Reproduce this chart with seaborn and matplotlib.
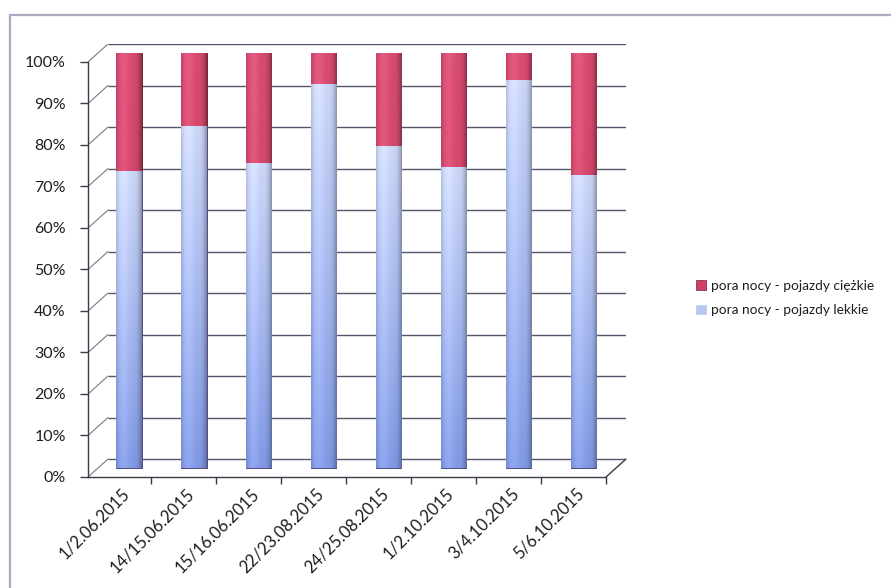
import numpy as np
import matplotlib
matplotlib.use("Agg")
import matplotlib.pyplot as plt
import seaborn as sns
import pandas as pd
from matplotlib.patches import Rectangle
from matplotlib.colors import to_rgb

# Night-time traffic split by vehicle class (share of total, %)
dates = ["1/2.06.2015", "14/15.06.2015", "15/16.06.2015", "22/23.08.2015",
         "24/25.08.2015", "1/2.10.2015", "3/4.10.2015", "5/6.10.2015"]
light = [71.5, 82.5, 73.5, 92.5, 77.5, 72.5, 93.5, 70.5]
heavy = [28.5, 17.5, 26.5, 7.5, 22.5, 27.5, 6.5, 29.5]
tick_values = [0, 10, 20, 30, 40, 50, 60, 70, 80, 90, 100]
tick_labels = [f"{v}%" for v in tick_values]
series_names = ["pora nocy - pojazdy ciężkie", "pora nocy - pojazdy lekkie"]

RED = "#cf4068"
RED_EDGE = "#7a1a35"
BLUE = "#a9b9ec"
BLUE_EDGE = "#4a5fa8"
GRID = "#55566a"
TEXT = "#1e1e1e"

sns.set_theme(style="white")
plt.rcParams["font.family"] = ["Lato", "DejaVu Sans"]

W, H = 891, 588
fig = plt.figure(figsize=(W / 100, H / 100), dpi=100)
fig.patch.set_facecolor("white")

# outer chart frame
fig.patches.append(Rectangle((10 / W, -0.05), 1.0, (H - 15) / H + 0.05,
                             transform=fig.transFigure, fill=False,
                             edgecolor="#a9a9c0", linewidth=1.6))

ax = fig.add_axes([88 / W, (H - 477) / H, (626 - 88) / W, (477 - 44) / H])
ax.set_facecolor("none")

df = pd.DataFrame({"date": dates, "light": light, "heavy": heavy})
df["total"] = df["light"] + df["heavy"]

BAR_W = 0.39
sns.barplot(data=df, x="date", y="total", color=RED, width=BAR_W, saturation=1,
            errorbar=None, edgecolor=RED_EDGE, linewidth=0.7, ax=ax, zorder=3)
n_red = len(ax.patches)
sns.barplot(data=df, x="date", y="light", color=BLUE, width=BAR_W, saturation=1,
            errorbar=None, edgecolor=BLUE_EDGE, linewidth=0.5, ax=ax, zorder=4)


def shade(patch, top, bottom, z, right_dark):
    """Fill a bar with a cylinder-like gradient clipped to its outline."""
    x0, y0 = patch.get_x(), patch.get_y()
    w, h = patch.get_width(), patch.get_height()
    ny, nx = 64, 48
    t = np.linspace(0, 1, ny)[:, None]
    base = (1 - t) * np.array(to_rgb(bottom)) + t * np.array(to_rgb(top))
    base = np.repeat(base[:, None, :], nx, axis=1)
    u = np.linspace(0, 1, nx)
    edge = 1 - right_dark * np.clip((u - 0.7) / 0.3, 0, 1) ** 2 \
             - 0.10 * np.clip((0.12 - u) / 0.12, 0, 1)
    hi = 0.06 * np.exp(-((u - 0.3) / 0.2) ** 2)
    img = base * edge[None, :, None] + hi[None, :, None]
    img = np.clip(img, 0, 1)
    im = ax.imshow(img, extent=(x0, x0 + w, y0, y0 + h), origin="lower",
                   aspect="auto", zorder=z, interpolation="bilinear")
    im.set_clip_path(patch)
    patch.set_facecolor("none")


for p in ax.patches[:n_red]:
    shade(p, "#d54a70", "#cc3e64", 3.1, 0.35)
for p in ax.patches[n_red:]:
    shade(p, "#cad5f5", "#8098e2", 4.1, 0.30)

# pseudo-3D frame: front axes, back wall gridlines and depth connectors
dz = 2.16          # vertical depth offset (percentage units)
dx = 0.308         # horizontal depth offset (category units)
xl, xr = -0.632, 7.658
xb = xl + dx
xf = xr - dx
ax.set_xlim(xl, xr)
ax.set_ylim(-dz, 100 + dz)

for v in tick_values:
    ax.plot([xb, xr], [v + dz, v + dz], color=GRID, lw=1.0, zorder=1,
            solid_capstyle="butt")
    ax.plot([xl, xb], [v - dz, v + dz], color="#7a7a88", lw=0.8, zorder=1)
ax.plot([xf, xr], [-dz, dz], color="#3a3a48", lw=1.0, zorder=1, clip_on=False)

for side in ["top", "right"]:
    ax.spines[side].set_visible(False)
ax.spines["left"].set_bounds(-dz, 100 - dz)
ax.spines["bottom"].set_bounds(xl, xf)
for side in ["left", "bottom"]:
    ax.spines[side].set_color("#3a3a48")
    ax.spines[side].set_linewidth(1.0)

ax.set_yticks([v - dz for v in tick_values], tick_labels)
ax.tick_params(axis="y", length=6, width=1.0, color="#3a3a48", pad=10,
               labelsize=11.5, labelcolor=TEXT, left=True)

ax.set_xticks([i - 0.12 for i in range(len(dates))], dates)
ax.set_xticks([i + 0.5 - dx / 2 for i in range(len(dates))], minor=True)
ax.tick_params(axis="x", which="major", length=0, pad=6, labelsize=12,
               labelcolor=TEXT)
ax.tick_params(axis="x", which="minor", length=5, width=1.0,
               color="#3a3a48", bottom=True)
for lab in ax.get_xticklabels():
    lab.set_rotation(45)
    lab.set_ha("right")
    lab.set_va("top")
    lab.set_rotation_mode("anchor")

ax.set_xlabel("")
ax.set_ylabel("")
ax.grid(False)

handles = [Rectangle((0, 0), 1, 1, facecolor=RED, edgecolor=RED_EDGE, lw=0.5),
           Rectangle((0, 0), 1, 1, facecolor="#b8c6f0", edgecolor="#b8c6f0", lw=0.5)]
fig.legend(handles, series_names, loc="center left",
           bbox_to_anchor=(684 / W, 1 - 298 / H), frameon=False,
           fontsize=9.8, handlelength=0.7, handleheight=0.7,
           handletextpad=0.35, labelspacing=0.9, labelcolor=TEXT)

fig.savefig("out.png", dpi=100, facecolor="white")
